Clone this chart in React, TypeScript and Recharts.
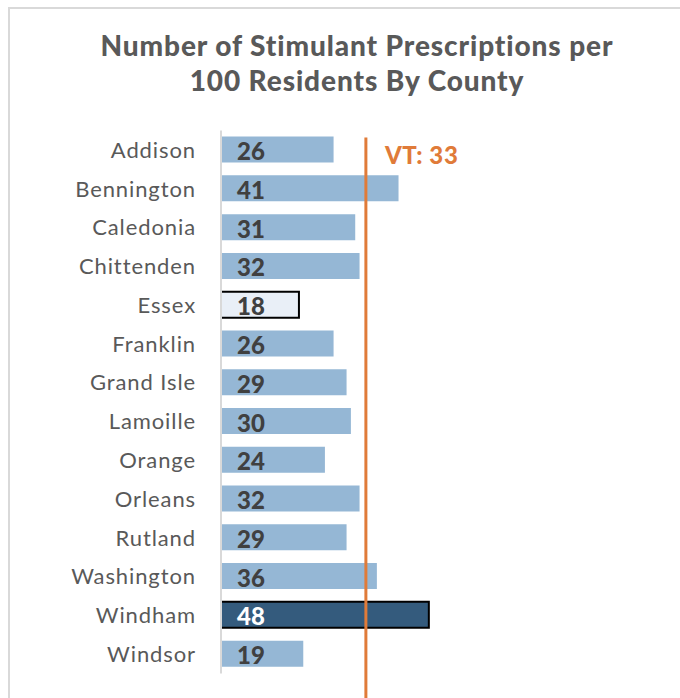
import { BarChart, Bar, XAxis, YAxis, Cell, LabelList, ReferenceLine } from "recharts";

const counties = [
  "Addison", "Bennington", "Caledonia", "Chittenden", "Essex", "Franklin", "Grand Isle",
  "Lamoille", "Orange", "Orleans", "Rutland", "Washington", "Windham", "Windsor",
];
const rates = [26, 41, 31, 32, 18, 26, 29, 30, 24, 32, 29, 36, 48, 19];
const vtRate = 33;

const data = counties.map((county, i) => ({ county, rate: rates[i] }));

const FONT = "Lato, 'Open Sans', sans-serif";
const BAR = "#95b7d5";
const LOW = "#e9eff7";
const HIGH = "#345b7d";
const ORANGE = "#e07b39";
const TEXT = "#595959";

function barFill(county: string) {
  if (county === "Essex") return LOW;
  if (county === "Windham") return HIGH;
  return BAR;
}

function ValueLabel(props: any) {
  const { x, y, height, value, index } = props;
  const dark = counties[index] === "Windham";
  return (
    <text
      x={x + 16}
      y={y + height / 2 + 1}
      dominantBaseline="central"
      fontFamily={FONT}
      fontWeight={900}
      fontSize={24}
      fill={dark ? "#ffffff" : "#404040"}
    >
      {value}
    </text>
  );
}

// vertical reference line runs past the plot area, down to the bottom edge
function VtLine(props: any) {
  const { x1, y1, x2, y2 } = props;
  const top = Math.min(y1, y2);
  const bottom = Math.max(y1, y2);
  return <line x1={x1 + 2} y1={top + 7} x2={x2 + 2} y2={bottom + 30} stroke={ORANGE} strokeWidth={3} />;
}

function VtLabel(props: any) {
  const { viewBox } = props;
  return (
    <text x={viewBox.x + 21} y={viewBox.y + 24} dominantBaseline="central" fontFamily={FONT} fontWeight={900} fontSize={24} letterSpacing={0.6} fill={ORANGE}>
      VT: {vtRate}
    </text>
  );
}

export default function App() {
  return (
    <div style={{ position: "fixed", left: 0, top: 0, width: 680, height: 698, background: "#fff", overflow: "hidden" }}>
      <div style={{ position: "absolute", left: 8, top: 7, right: -10, bottom: -10, borderLeft: "2px solid #d9d9d9", borderTop: "2px solid #d9d9d9" }} />
      <div
        style={{
          position: "absolute", left: 34, top: 28, width: 646, textAlign: "center",
          fontFamily: FONT, fontWeight: 900, fontSize: 28, letterSpacing: 0.9, lineHeight: "35px", color: TEXT,
        }}
      >
        Number of Stimulant Prescriptions per
        <br />
        100 Residents By County
      </div>
      <div style={{ position: "absolute", left: 0, top: 0 }}>
        <BarChart
          width={680}
          height={698}
          data={data}
          layout="vertical"
          margin={{ top: 130.6, right: 242.5, bottom: 24.6, left: 0 }}
        >
          <XAxis type="number" domain={[0, 50]} hide />
          <YAxis
            type="category"
            dataKey="county"
            width={221}
            tickLine={false}
            tickMargin={19}
            axisLine={{ stroke: "#d9d9d9", strokeWidth: 2 }}
            tick={{ fill: TEXT, fontSize: 22, fontFamily: FONT, letterSpacing: 0.9 }}
            interval={0}
          />
          <Bar dataKey="rate" barSize={26} isAnimationActive={false}>
            {data.map((d) => (
              <Cell
                key={d.county}
                fill={barFill(d.county)}
                stroke={d.county === "Essex" || d.county === "Windham" ? "#000" : "none"}
                strokeWidth={2}
              />
            ))}
            <LabelList dataKey="rate" content={ValueLabel} />
          </Bar>
          <ReferenceLine x={vtRate} ifOverflow="visible" shape={VtLine} label={VtLabel} />
        </BarChart>
      </div>
    </div>
  );
}
